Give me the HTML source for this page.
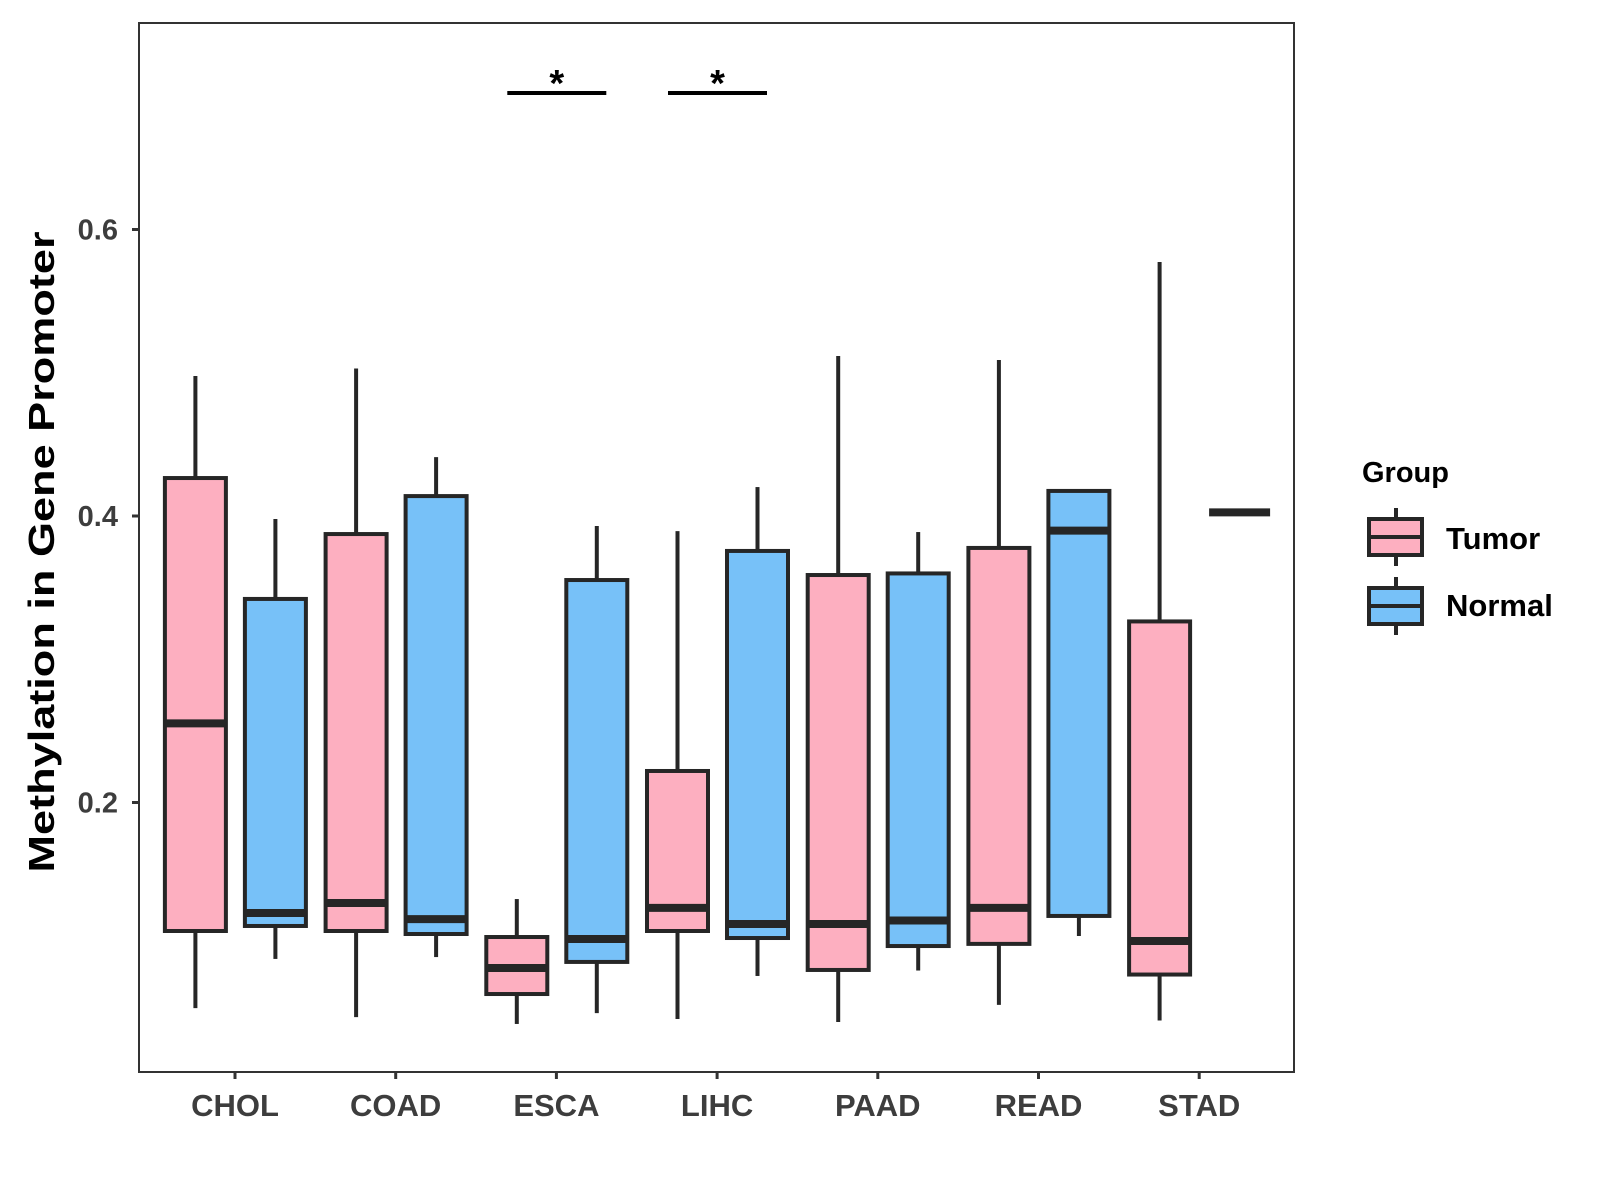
<!DOCTYPE html>
<html><head><meta charset="utf-8"><style>
html,body{margin:0;padding:0;background:#fff;}
svg{display:block;font-family:"Liberation Sans",Arial,sans-serif;}
</style></head><body>
<svg id="chart" width="1600" height="1200" viewBox="0 0 1600 1200" xmlns="http://www.w3.org/2000/svg">
<rect x="0" y="0" width="1600" height="1200" fill="#fff"/>
<g id="marks"></g>
<rect x="139" y="23" width="1155" height="1049" fill="none" stroke="#333" stroke-width="2"/>
<g id="axes"></g>
<text x="54" y="552" transform="rotate(-90 54 552)" text-anchor="middle" font-size="36" font-weight="bold" fill="#000" textLength="641" lengthAdjust="spacingAndGlyphs">Methylation in Gene Promoter</text>
<g>
<text x="1362" y="482" font-size="29" font-weight="bold" fill="#000">Group</text>
<g>
<line x1="1396" y1="508" x2="1396" y2="566" stroke="#262626" stroke-width="4"/>
<rect x="1369" y="519" width="53" height="36" fill="#FDAFC0" stroke="#262626" stroke-width="4"/>
<line x1="1369" y1="537" x2="1422" y2="537" stroke="#262626" stroke-width="4"/>
<text x="1446" y="549" font-size="31" font-weight="bold" fill="#000">Tumor</text>
</g>
<g>
<line x1="1396" y1="577" x2="1396" y2="635" stroke="#262626" stroke-width="4"/>
<rect x="1369" y="588" width="53" height="36" fill="#77C1F8" stroke="#262626" stroke-width="4"/>
<line x1="1369" y1="606" x2="1422" y2="606" stroke="#262626" stroke-width="4"/>
<text x="1446" y="616" font-size="31" font-weight="bold" fill="#000">Normal</text>
</g>
</g>
</svg>
<script>
const categories = ["CHOL","COAD","ESCA","LIHC","PAAD","READ","STAD"];
const groups = ["Tumor","Normal"];
// [whiskerLow, q1, median, q3, whiskerHigh]
const tumorStats = [
  [0.0565,0.1103,0.2552,0.4265,0.4977],
  [0.0502,0.1103,0.1298,0.3874,0.5030],
  [0.0454,0.0663,0.0845,0.1061,0.1326],
  [0.0489,0.1103,0.1264,0.2220,0.3894],
  [0.0468,0.0831,0.1152,0.3588,0.5117],
  [0.0587,0.1013,0.1264,0.3777,0.5089],
  [0.0478,0.0799,0.1033,0.3264,0.5773]
];
const normalStats = [
  [0.0908,0.1138,0.1229,0.3421,0.3979],
  [0.0921,0.1082,0.1186,0.4139,0.4411],
  [0.0530,0.0887,0.1047,0.3553,0.3930],
  [0.0789,0.1054,0.1152,0.3756,0.4202],
  [0.0827,0.0998,0.1176,0.3599,0.3888],
  [0.1068,0.1208,0.3898,0.4175,0.4188],
  [0.4025,0.4025,0.4025,0.4025,0.4025]
];
const yTicks = [0.2,0.4,0.6];
const yTickLabels = ["0.2","0.4","0.6"];
const sigPairs = ["ESCA","LIHC"];
const sigLabels = ["*","*"];
const sigLevel = 0.6953;

const NS="http://www.w3.org/2000/svg";
function yScale(v){return 802.5-(v-0.2)*1432.5;}
function xScale(i){return 235+i*160.7;}
const groupOffset=[-39.6,40.4];
const boxW=61;
function mk(tag,attrs,parent){const e=document.createElementNS(NS,tag);for(const k in attrs)e.setAttribute(k,attrs[k]);parent.appendChild(e);return e;}
const marks=document.getElementById('marks');
const axes=document.getElementById('axes');
const fills=["#FDAFC0","#77C1F8"];
[tumorStats,normalStats].forEach((stats,g)=>{
  stats.forEach((s,i)=>{
    const cx=xScale(i)+groupOffset[g];
    const grp=mk('g',{},marks);
    
    
    mk('line',{x1:cx,x2:cx,y1:yScale(s[4]),y2:yScale(s[3]),stroke:'#262626','stroke-width':4},grp);
    mk('line',{x1:cx,x2:cx,y1:yScale(s[1]),y2:yScale(s[0]),stroke:'#262626','stroke-width':4},grp);
    mk('rect',{x:cx-boxW/2,y:yScale(s[3]),width:boxW,height:Math.max(0,yScale(s[1])-yScale(s[3])),fill:fills[g],stroke:'#262626','stroke-width':4},grp);
    mk('line',{x1:cx-boxW/2,x2:cx+boxW/2,y1:yScale(s[2]),y2:yScale(s[2]),stroke:'#262626','stroke-width':8},grp);
  });
});
sigPairs.forEach((c,k)=>{
  const i=categories.indexOf(c);
  const x1=xScale(i)+groupOffset[0]-9.5, x2=xScale(i)+groupOffset[1]+9.5;
  const g=mk('g',{},marks);
  
  
  mk('line',{x1:x1,x2:x2,y1:yScale(sigLevel),y2:yScale(sigLevel),stroke:'#000','stroke-width':4},g);
  const t=mk('text',{x:(x1+x2)/2,y:yScale(sigLevel)+3,'text-anchor':'middle','font-size':38,'font-weight':'bold',fill:'#000'},g);
  t.textContent=sigLabels[k];
});
yTicks.forEach((v,k)=>{
  const y=yScale(v);
  const l=mk('line',{x1:132,x2:139,y1:y,y2:y,stroke:'#333','stroke-width':3},axes);
  
  
  const t=mk('text',{x:118,y:y+10,'text-anchor':'end','font-size':29,'font-weight':'bold',fill:'#3d3d3d'},axes);
  
  
  t.textContent=yTickLabels[k];
});
categories.forEach((c,i)=>{
  const x=xScale(i);
  const l=mk('line',{x1:x,x2:x,y1:1072,y2:1079,stroke:'#333','stroke-width':3},axes);
  
  
  const t=mk('text',{x:x,y:1116,'text-anchor':'middle','font-size':31,'font-weight':'bold',fill:'#3d3d3d'},axes);
  
  
  t.textContent=c;
});
</script>
</body></html>
